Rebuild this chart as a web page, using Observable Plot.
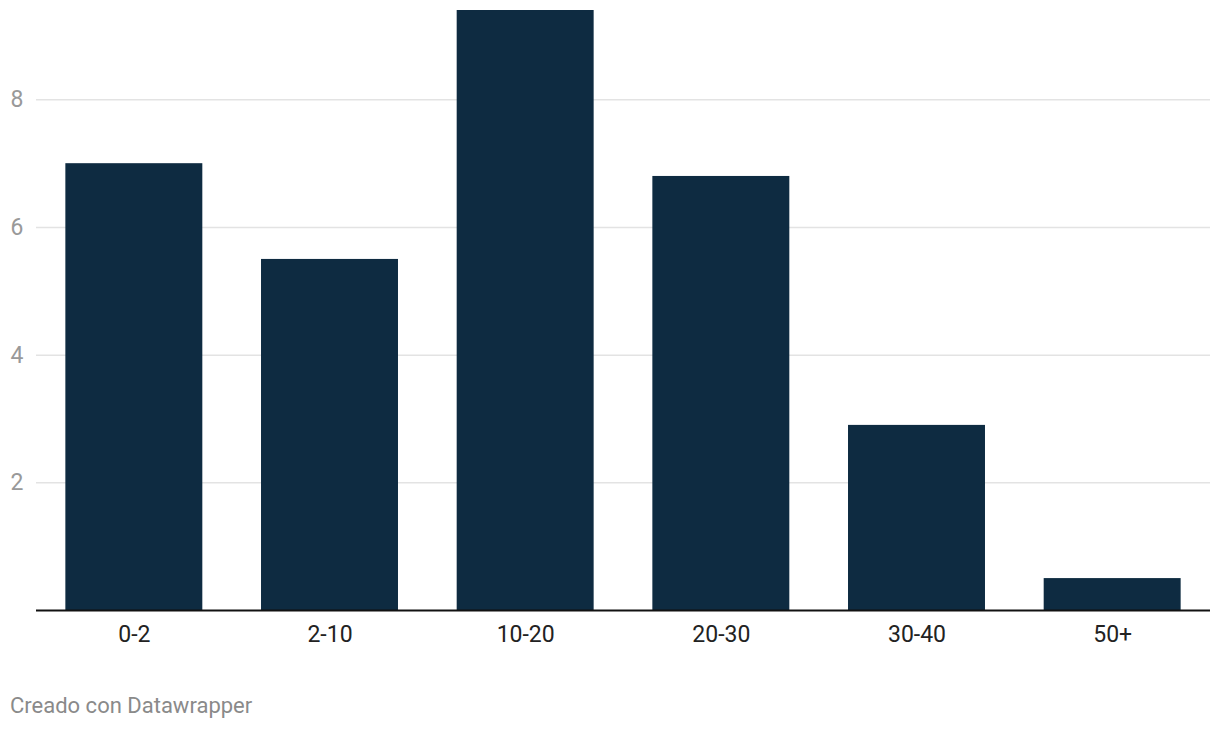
<!DOCTYPE html>
<html>
<head>
<meta charset="utf-8">
<script src="https://cdn.jsdelivr.net/npm/d3@7"></script>
<script src="https://cdn.jsdelivr.net/npm/@observablehq/plot@0.6"></script>
<style>
  html, body { margin: 0; padding: 0; background: #fff; }
  body { font-family: Roboto, "Noto Sans", sans-serif; width: 1220px; height: 730px; overflow: hidden; }
  #chart svg { display: block; }
  #caption { font-size: 22px; color: #8a8a8a; padding-left: 10px; margin-top: 33px; line-height: 26px; }
</style>
</head>
<body>
<div id="chart"></div>
<div id="caption">Creado con Datawrapper</div>
<script>
const categories = ["0-2", "2-10", "10-20", "20-30", "30-40", "50+"];
const values = [7.0, 5.5, 9.4, 6.8, 2.9, 0.5];
const yTicks = [2, 4, 6, 8];

const data = categories.map((c, i) => ({category: c, value: values[i]}));

const chart = Plot.plot({
  width: 1220,
  height: 660,
  marginTop: 10,
  marginBottom: 50,
  marginLeft: 36,
  marginRight: 10,
  style: {fontFamily: "Roboto, 'Noto Sans', sans-serif", fontSize: "23px", background: "#fff"},
  x: {domain: categories, paddingInner: 0.3, paddingOuter: 0.15, round: false, label: null},
  y: {domain: [0, 9.4], label: null},
  marks: [
    Plot.ruleY(yTicks, {stroke: "#e3e3e3", strokeWidth: 1.5}),
    Plot.axisY(yTicks, {tickSize: 0, tickPadding: 13, tickFormat: "d", fill: "#999", fontSize: 23, label: null}),
    Plot.barY(data, {x: "category", y: "value", fill: "#0e2b41"}),
    Plot.ruleY([0], {stroke: "#111", strokeWidth: 2}),
    Plot.axisX({tickSize: 0, tickPadding: 15, fill: "#222", fontSize: 23, label: null})
  ]
});
document.getElementById("chart").appendChild(chart);
</script>
</body>
</html>
